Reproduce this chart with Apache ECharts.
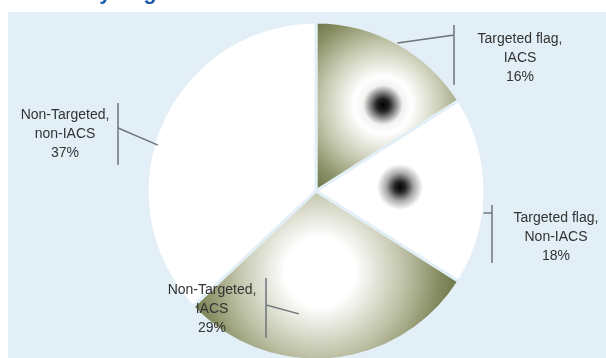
<!DOCTYPE html>
<html>
<head>
<meta charset="utf-8">
<script src="https://cdn.jsdelivr.net/npm/echarts@6/dist/echarts.min.js"></script>
<style>
  html, body { margin: 0; padding: 0; background: #ffffff; }
  #chart { width: 606px; height: 358px; }
</style>
</head>
<body>
<div id="chart"></div>
<script>
// Share of inspected vessels by flag targeting and IACS class
const categories = [
  'Targeted flag, IACS',
  'Targeted flag, Non-IACS',
  'Non-Targeted, IACS',
  'Non-Targeted, non-IACS'
];
const shares = [16, 18, 29, 37];

// pie geometry (pixels)
const CX = 316, CY = 191, R = 169;
const PANEL = '#e2eff6';
const INK = '#333333';
const LEADER = '#6d767c';

// callout layout: where the leader leaves the pie (degrees clockwise from 12 o'clock,
// fraction of the radius), the vertical bracket beside the text, and the text centre
const callouts = [
  { angle: 28.8,  rf: 1.0,   barX: 454, joinY: 35,  barTop: 25,  barBottom: 85,  textX: 520, textY: 58 },
  { angle: 97.5,  rf: 1.0,   barX: 492, joinY: 213, barTop: 205, barBottom: 263, textX: 556, textY: 237 },
  { angle: 187.9, rf: 0.734, barX: 266, joinY: 305, barTop: 278, barBottom: 338, textX: 212, textY: 309 },
  { angle: 286.2, rf: 0.974, barX: 118, joinY: 128, barTop: 103, barBottom: 165, textX: 65,  textY: 134 }
];

function radial(x, y, r, stops) {
  return new echarts.graphic.RadialGradient(x, y, r,
    stops.map(s => ({ offset: s[0], color: s[1] })), true);
}

// slice fills
const fills = [
  radial(CX + 67, CY - 86, 110, [
    [0, '#000000'], [0.06, '#262626'], [0.12, '#8e8e8e'], [0.18, '#f2f2f0'],
    [0.26, '#ffffff'], [0.55, '#c5c8ae'], [0.8, '#8a9066'], [1, '#687044']
  ]),
  radial(CX + 84, CY - 4, 23, [
    [0, '#000000'], [0.25, '#2a2a2a'], [0.6, '#a8a8a8'], [1, '#ffffff']
  ]),
  radial(CX + 4, CY + 81, 140, [
    [0, '#ffffff'], [0.25, '#ffffff'], [0.6, '#bfc2a7'], [0.85, '#878d62'], [1, '#6d7448']
  ]),
  '#ffffff'
];

const pieBase = {
  type: 'pie',
  center: [CX, CY],
  radius: [0, R],
  startAngle: 90,
  clockwise: true,
  avoidLabelOverlap: false
};

const chart = echarts.init(document.getElementById('chart'), null, { renderer: 'canvas' });

chart.setOption({
  animation: false,
  backgroundColor: '#ffffff',
  title: {
    text: 'Vessels by flag',
    left: -6,
    top: -23,
    textStyle: { fontSize: 22, fontWeight: 'bold', color: '#1d5eac', fontFamily: 'Liberation Sans, Arial' }
  },
  graphic: [{
    type: 'rect',
    left: 8,
    top: 12,
    silent: true,
    z: 0,
    shape: { width: 598, height: 346 },
    style: { fill: PANEL }
  }],
  series: [
    // the slices
    Object.assign({}, pieBase, {
      z: 2,
      silent: true,
      itemStyle: { borderColor: PANEL, borderWidth: 3 },
      label: { show: false },
      labelLine: { show: false },
      data: categories.map((name, i) => ({
        name: name,
        value: shares[i],
        itemStyle: { color: fills[i] }
      }))
    }),
    // callouts drawn above every slice
    Object.assign({}, pieBase, {
      z: 3,
      silent: true,
      itemStyle: { color: 'rgba(0,0,0,0)', borderWidth: 0 },
      label: {
        show: true,
        position: 'outside',
        color: INK,
        fontSize: 14,
        lineHeight: 19,
        fontFamily: 'Liberation Sans, Arial',
        align: 'center',
        formatter: p => p.name.replace(', ', ',\n') + '\n' + p.value + '%'
      },
      labelLine: {
        show: true,
        length: 10,
        length2: 10,
        lineStyle: { color: LEADER, width: 1.5 }
      },
      labelLayout: function (params) {
        const c = callouts[params.dataIndex];
        const a = c.angle * Math.PI / 180;
        const sx = CX + c.rf * R * Math.sin(a);
        const sy = CY - c.rf * R * Math.cos(a);
        return {
          x: c.textX,
          y: c.textY,
          align: 'center',
          verticalAlign: 'middle',
          labelLinePoints: [[sx, sy], [c.barX, c.joinY], [c.barX, c.barTop], [c.barX, c.barBottom]]
        };
      },
      data: categories.map((name, i) => ({ name: name, value: shares[i] }))
    })
  ]
});
</script>
</body>
</html>
